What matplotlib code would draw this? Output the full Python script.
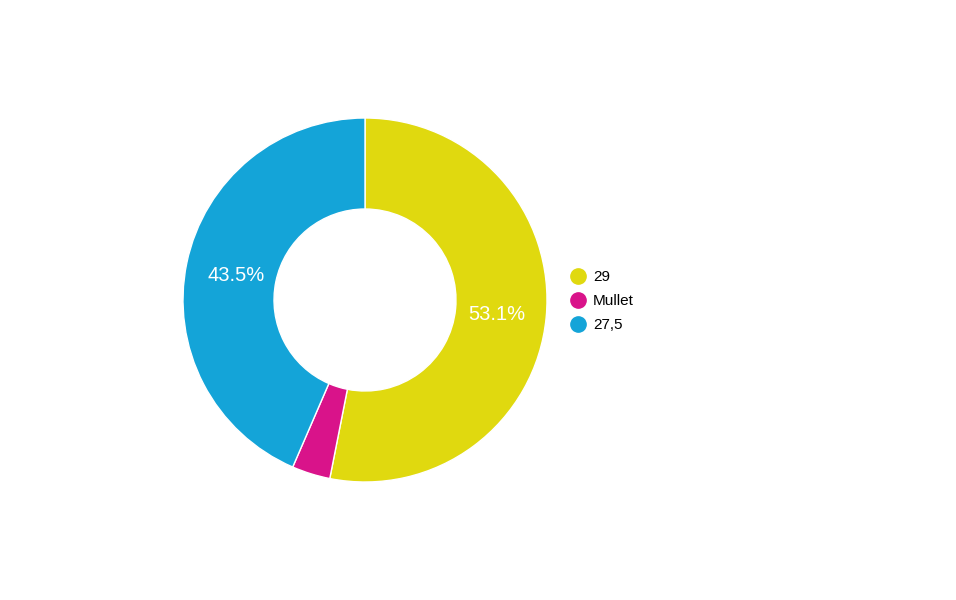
import matplotlib.pyplot as plt
from matplotlib.lines import Line2D

# === Data ===
labels = ['29', 'Mullet', '27,5']
shares = [53.1, 3.4, 43.5]
colors = ['#e0d90f', '#d9138a', '#14a4d8']

plt.rcParams['font.family'] = ['Liberation Sans', 'DejaVu Sans']

fig = plt.figure(figsize=(9.56, 6.0), dpi=100)
ax = fig.add_axes([0, 0, 1, 1])

wedges, texts, autotexts = ax.pie(
    shares,
    colors=colors,
    center=(365, 300),
    radius=182,
    startangle=90,
    counterclock=False,
    autopct=lambda p: f'{p:.1f}%' if p > 5 else '',
    pctdistance=0.725,
    wedgeprops=dict(width=91, edgecolor='white', linewidth=1),
    textprops=dict(color='white', fontsize=14.5),
    frame=True,
)
for t in autotexts:
    x, y = t.get_position()
    t.set_position((x, y - 2))
ax.set_xlim(0, 956)
ax.set_ylim(0, 600)
ax.set_aspect('equal')
ax.axis('off')

# === Legend ===
handles = [Line2D([0], [0], marker='o', linestyle='', markersize=11,
                  markerfacecolor=c, markeredgecolor=c) for c in colors]
fig.legend(handles, labels, loc='upper left', bbox_to_anchor=(570 / 956, 1 - 270 / 600),
           frameon=False, fontsize=11, handletextpad=0.5, labelspacing=0.66,
           borderaxespad=0, borderpad=0, handlelength=1.0)

plt.savefig('out.png', dpi=100)
